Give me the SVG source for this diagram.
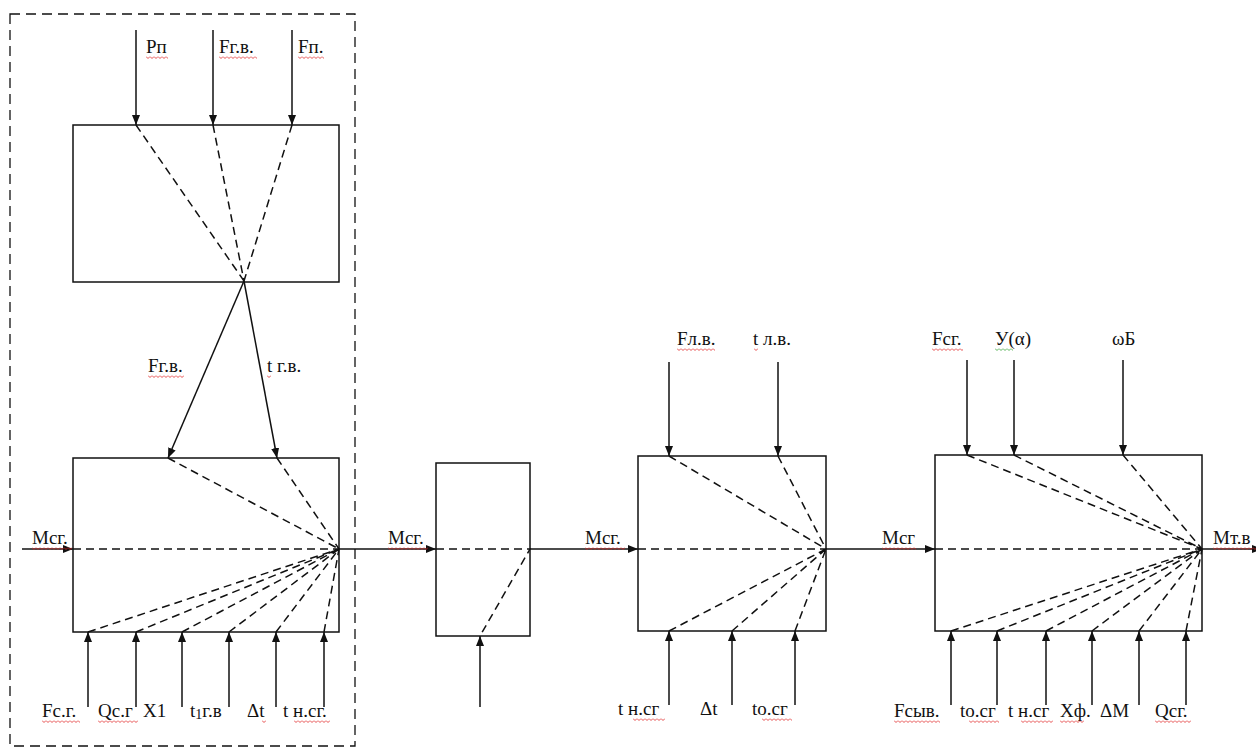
<svg xmlns="http://www.w3.org/2000/svg" width="1256" height="751" viewBox="0 0 1256 751">
<style>
.box{fill:none;stroke:#111;stroke-width:1.5}
.ln{fill:none;stroke:#111;stroke-width:1.5}
.ar{fill:none;stroke:#111;stroke-width:1.5;marker-end:url(#ah)}
.ds{fill:none;stroke:#111;stroke-width:1.5;stroke-dasharray:8 5}
.frame{fill:none;stroke:#111;stroke-width:1.3;stroke-dasharray:10 6}
text{font-family:"Liberation Serif","Times New Roman",serif;font-size:19px;fill:#111}
.sq{fill:url(#sqr)}
.sg{fill:url(#sqg)}
</style>
<defs>
<marker id="ah" viewBox="0 0 10 8" refX="10" refY="4" markerWidth="10" markerHeight="8" orient="auto" markerUnits="userSpaceOnUse">
<path d="M0,0 L10,4 L0,8 z" fill="#111"/>
</marker>
<pattern id="sqr" patternUnits="userSpaceOnUse" width="4" height="3">
<path d="M0,0.5 L2,2.5 L4,0.5" fill="none" stroke="#e02020" stroke-width="0.8"/>
</pattern>
<pattern id="sqg" patternUnits="userSpaceOnUse" width="4" height="3">
<path d="M0,0.5 L2,2.5 L4,0.5" fill="none" stroke="#30a030" stroke-width="0.8"/>
</pattern>
</defs>
<rect width="1256" height="751" fill="#fff"/>

<g id="frame">
<rect class="frame" x="10" y="14" width="345" height="732"/>
</g>

<g id="box1">
<rect class="box" x="73" y="125" width="266" height="157"/>
<path class="ds" d="M136,125 L244,281 M213,125 L244,281 M292,125 L244,281"/>
</g>

<g id="box2">
<rect class="box" x="73" y="458" width="266" height="174"/>
<path class="ds" d="M73,549 L339,549 M168,458 L339,549 M277,458 L339,549 M88,632 L339,549 M136,632 L339,549 M182,632 L339,549 M229,632 L339,549 M276,632 L339,549 M324,632 L339,549"/>
</g>

<g id="box3">
<rect class="box" x="436" y="463" width="94" height="173"/>
<path class="ds" d="M436,549 L530,549 L480,636"/>
</g>

<g id="box4">
<rect class="box" x="638" y="456" width="188" height="175"/>
<path class="ds" d="M638,549 L826,549 M669,456 L826,549 M778,456 L826,549 M669,631 L826,549 M732,631 L826,549 M795,631 L826,549"/>
</g>

<g id="box5">
<rect class="box" x="935" y="455" width="267" height="176"/>
<path class="ds" d="M935,549 L1202,549 M967,455 L1202,549 M1014,455 L1202,549 M1123,455 L1202,549 M951,631 L1202,549 M997,631 L1202,549 M1046,631 L1202,549 M1092,631 L1202,549 M1139,631 L1202,549 M1186,631 L1202,549"/>
</g>

<g id="connectors">
<path class="ar" d="M136,30 L136,125"/>
<path class="ar" d="M213,30 L213,125"/>
<path class="ar" d="M292,30 L292,125"/>
<path class="ar" d="M244,281 L168,458"/>
<path class="ar" d="M244,281 L277,458"/>
<path class="ar" d="M22,549 L73,549"/>
<path class="ar" d="M88,707 L88,632"/>
<path class="ar" d="M136,707 L136,632"/>
<path class="ar" d="M182,707 L182,632"/>
<path class="ar" d="M229,707 L229,632"/>
<path class="ar" d="M276,707 L276,632"/>
<path class="ar" d="M324,707 L324,632"/>
<path class="ar" d="M339,549 L436,549"/>
<path class="ar" d="M480,707 L480,636"/>
<path class="ar" d="M530,549 L638,549"/>
<path class="ar" d="M669,362 L669,456"/>
<path class="ar" d="M778,362 L778,456"/>
<path class="ar" d="M669,705 L669,631"/>
<path class="ar" d="M732,705 L732,631"/>
<path class="ar" d="M795,705 L795,631"/>
<path class="ar" d="M826,549 L935,549"/>
<path class="ar" d="M967,360 L967,455"/>
<path class="ar" d="M1014,360 L1014,455"/>
<path class="ar" d="M1123,360 L1123,455"/>
<path class="ar" d="M951,705 L951,631"/>
<path class="ar" d="M997,705 L997,631"/>
<path class="ar" d="M1046,705 L1046,631"/>
<path class="ar" d="M1092,705 L1092,631"/>
<path class="ar" d="M1139,705 L1139,631"/>
<path class="ar" d="M1186,705 L1186,631"/>
<path class="ar" d="M1202,549 L1262,549"/>
</g>

<g id="labels">
<text x="146" y="53">Рп</text>
<text x="219" y="53">Fг.в.</text>
<text x="298" y="53">Fп.</text>
<text x="148" y="372">Fг.в.</text>
<text x="267" y="372">t г.в.</text>
<text x="32" y="544">Мсг.</text>
<text x="42" y="717">Fс.г.</text>
<text x="98" y="717">Qс.г</text>
<text x="143" y="717">X1</text>
<text x="190" y="717">t<tspan font-size="14" dy="2">1</tspan><tspan dy="-2">г.в</tspan></text>
<text x="247" y="717">Δt</text>
<text x="283" y="717">t н.сг.</text>
<text x="388" y="544">Мсг.</text>
<text x="585" y="544">Мсг.</text>
<text x="677" y="345">Fл.в.</text>
<text x="753" y="345">t л.в.</text>
<text x="618" y="715">t н.сг</text>
<text x="700" y="715">Δt</text>
<text x="752" y="715">tо.сг</text>
<text x="882" y="544">Мсг</text>
<text x="932" y="345">Fсг.</text>
<text x="995" y="345">У(α)</text>
<text x="1112" y="345">ωБ</text>
<text x="894" y="717">Fсыв.</text>
<text x="960" y="717">tо.сг</text>
<text x="1008" y="717">t н.сг</text>
<text x="1060" y="717">Xф.</text>
<text x="1100" y="717">ΔM</text>
<text x="1155" y="717">Qсг.</text>
<text x="1213" y="544">Мт.в</text>
</g>

<g id="spellmarks">
<rect class="sq" width="22" height="3" transform="translate(146,56)"/>
<rect class="sq" width="38" height="3" transform="translate(219,56)"/>
<rect class="sq" width="26" height="3" transform="translate(298,56)"/>
<rect class="sq" width="36" height="3" transform="translate(148,375)"/>
<rect class="sq" width="4" height="3" transform="translate(267,375)"/>
<rect class="sq" width="40" height="3" transform="translate(32,547)"/>
<rect class="sq" width="38" height="3" transform="translate(42,720)"/>
<rect class="sq" width="40" height="3" transform="translate(98,720)"/>
<rect class="sq" width="4" height="3" transform="translate(262,720)"/>
<rect class="sq" width="36" height="3" transform="translate(294,720)"/>
<rect class="sq" width="40" height="3" transform="translate(388,547)"/>
<rect class="sq" width="40" height="3" transform="translate(585,547)"/>
<rect class="sq" width="38" height="3" transform="translate(677,348)"/>
<rect class="sq" width="4" height="3" transform="translate(754,348)"/>
<rect class="sq" width="32" height="3" transform="translate(633,718)"/>
<rect class="sq" width="30" height="3" transform="translate(762,718)"/>
<rect class="sq" width="34" height="3" transform="translate(882,547)"/>
<rect class="sq" width="31" height="3" transform="translate(932,348)"/>
<rect class="sg" width="18" height="3" transform="translate(995,348)"/>
<rect class="sq" width="46" height="3" transform="translate(894,720)"/>
<rect class="sq" width="30" height="3" transform="translate(969,720)"/>
<rect class="sq" width="32" height="3" transform="translate(1021,720)"/>
<rect class="sq" width="24" height="3" transform="translate(1060,720)"/>
<rect class="sq" width="36" height="3" transform="translate(1155,720)"/>
<rect class="sq" width="43" height="3" transform="translate(1213,547)"/>
</g>
</svg>
